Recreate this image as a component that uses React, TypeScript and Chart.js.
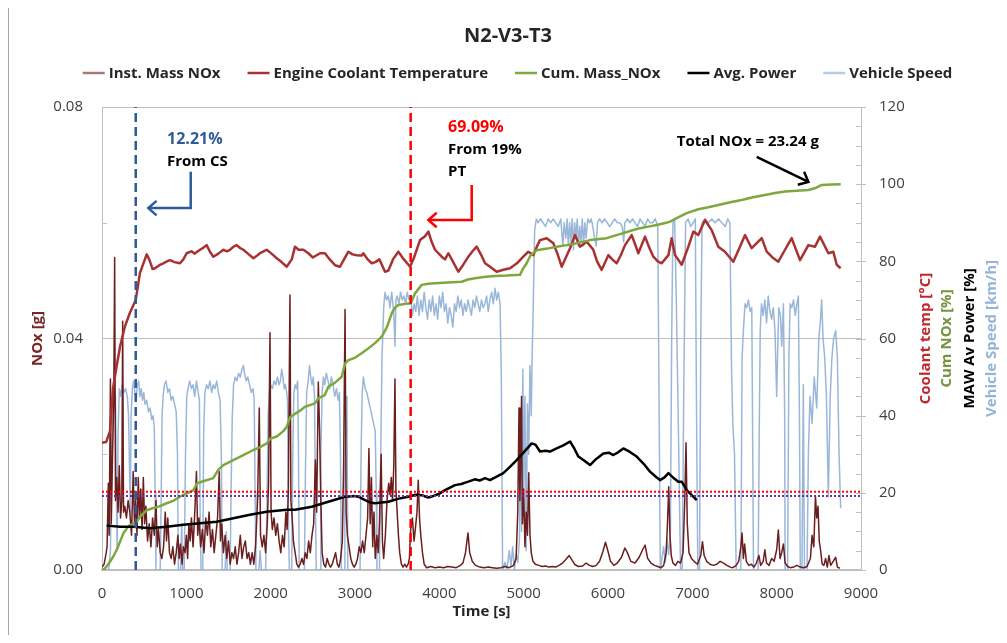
import React, { useEffect, useRef } from "react";
import { Chart, registerables } from "chart.js";

Chart.register(...registerables);

// ---------- DATA ----------
const chartTitle = "N2-V3-T3";
const xTicks = [0, 1000, 2000, 3000, 4000, 5000, 6000, 7000, 8000, 9000];
const leftTicks = [0, 0.04, 0.08];
const rightTicks = [0, 20, 40, 60, 80, 100, 120];

const seriesNames = ["Inst. Mass NOx", "Engine Coolant Temperature", "Cum. Mass_NOx", "Avg. Power", "Vehicle Speed"];

// Inst. Mass NOx [g] vs time [s]
const instNox: [number, number][] = [
  [0,0.0005],[25,0.001],[50,0.003],[60,0.004],[75,0.015],[85,0.006],[100,0.033],[110,0.008],[125,0.02],[140,0.03],
  [150,0.054],[160,0.012],[175,0.016],[190,0.01],[205,0.018],[220,0.009],[235,0.012],[245,0.043],[255,0.01],[270,0.011],
  [290,0.009],[310,0.012],[330,0.01],[350,0.006],[370,0.017],[385,0.008],[400,0.012],[415,0.006],[430,0.016],[445,0.009],
  [460,0.014],[475,0.007],[490,0.016],[505,0.008],[520,0.011],[540,0.005],[560,0.008],[580,0.004],[600,0.009],[620,0.006],
  [640,0.012],[655,0.004],[670,0.007],[690,0.003],[710,0.002],[730,0.004],[750,0.01],[765,0.005],[780,0.009],[800,0.003],
  [820,0.002],[840,0.004],[860,0.001],[880,0.003],[900,0.006],[915,0.002],[930,0.0045],[950,0.001],[965,0.004],[985,0.003],
  [1000,0.006],[1015,0.002],[1030,0.008],[1045,0.005],[1060,0.009],[1080,0.004],[1100,0.01],[1120,0.017],[1135,0.006],[1150,0.009],
  [1170,0.004],[1190,0.007],[1210,0.003],[1230,0.009],[1250,0.006],[1270,0.01],[1290,0.004],[1310,0.007],[1330,0.003],[1350,0.006],
  [1370,0.009],[1390,0.017],[1405,0.005],[1420,0.008],[1440,0.003],[1460,0.006],[1480,0.002],[1500,0.005],[1520,0.001],[1540,0.003],
  [1560,0.002],[1580,0.004],[1600,0.001],[1620,0.003],[1640,0.006],[1660,0.002],[1680,0.004],[1700,0.005],[1720,0.002],[1740,0.003],
  [1760,0.001],[1780,0.003],[1800,0.001],[1820,0.004],[1845,0.012],[1865,0.028],[1880,0.006],[1900,0.004],[1920,0.006],[1940,0.003],
  [1960,0.008],[1975,0.015],[1992,0.041],[2005,0.01],[2020,0.007],[2040,0.009],[2060,0.006],[2080,0.008],[2100,0.005],[2120,0.003],
  [2140,0.006],[2160,0.004],[2180,0.01],[2195,0.007],[2210,0.014],[2229,0.0475],[2240,0.012],[2255,0.009],[2270,0.005],[2290,0.003],
  [2310,0.001],[2330,0.0005],[2350,0.001],[2370,0.002],[2390,0.001],[2410,0.003],[2430,0.002],[2450,0.005],[2470,0.003],[2490,0.006],
  [2510,0.008],[2530,0.019],[2545,0.01],[2565,0.0325],[2580,0.024],[2595,0.012],[2610,0.003],[2630,0.001],[2650,0.0005],[2670,0.002],
  [2690,0.001],[2710,0.0005],[2730,0.001],[2750,0.002],[2770,0.003],[2790,0.001],[2810,0.0005],[2830,0.002],[2850,0.005],[2865,0.018],
  [2882,0.045],[2895,0.01],[2910,0.006],[2930,0.004],[2950,0.002],[2970,0.001],[2990,0.0005],[3010,0.001],[3030,0.002],[3050,0.004],
  [3070,0.003],[3090,0.005],[3110,0.003],[3130,0.006],[3150,0.009],[3165,0.021],[3180,0.008],[3195,0.016],[3210,0.004],[3225,0.01],
  [3240,0.002],[3260,0.006],[3275,0.003],[3290,0.008],[3310,0.02],[3325,0.005],[3340,0.002],[3360,0.006],[3380,0.012],[3400,0.015],
  [3415,0.013],[3430,0.016],[3445,0.012],[3460,0.018],[3474,0.033],[3485,0.014],[3500,0.01],[3515,0.006],[3530,0.003],[3550,0.001],
  [3570,0.0005],[3590,0.001],[3610,0.0005],[3630,0.001],[3645,0.002],[3660,0.007],[3680,0.009],[3700,0.005],[3715,0.007],[3735,0.01],
  [3750,0.0155],[3765,0.009],[3780,0.006],[3800,0.003],[3820,0.001],[3850,0.0004],[3900,0.0006],[3950,0.0004],[4000,0.0005],[4050,0.0004],
  [4100,0.0006],[4150,0.0005],[4200,0.0004],[4250,0.0008],[4280,0.0012],[4310,0.003],[4340,0.0064],[4360,0.003],[4390,0.0015],[4430,0.0008],
  [4480,0.0005],[4530,0.0004],[4580,0.0005],[4630,0.0004],[4680,0.0003],[4730,0.0004],[4780,0.0006],[4830,0.0004],[4880,0.0008],[4910,0.002],
  [4930,0.01],[4945,0.028],[4955,0.012],[4965,0.02],[4975,0.03],[4985,0.008],[5000,0.014],[5015,0.004],[5030,0.01],[5045,0.006],
  [5060,0.0168],[5075,0.006],[5090,0.003],[5110,0.0015],[5140,0.001],[5180,0.0008],[5220,0.0006],[5260,0.0007],[5300,0.0005],[5340,0.0006],
  [5380,0.0005],[5420,0.0008],[5460,0.0012],[5500,0.0018],[5540,0.0025],[5570,0.0018],[5610,0.0009],[5650,0.0006],[5700,0.0007],[5740,0.0012],
  [5780,0.0008],[5820,0.0006],[5860,0.0008],[5900,0.0015],[5940,0.0032],[5970,0.0048],[5995,0.0035],[6030,0.0015],[6070,0.0008],[6110,0.0012],
  [6160,0.0022],[6200,0.0038],[6230,0.003],[6270,0.0015],[6320,0.0012],[6370,0.0022],[6410,0.0035],[6440,0.0043],[6470,0.002],[6510,0.0012],
  [6550,0.0008],[6590,0.0006],[6630,0.0004],[6660,0.0008],[6690,0.003],[6705,0.008],[6720,0.0144],[6735,0.006],[6750,0.0025],[6770,0.0012],
  [6800,0.0008],[6830,0.0015],[6860,0.0012],[6890,0.003],[6910,0.012],[6925,0.022],[6940,0.008],[6960,0.003],[6990,0.002],[7020,0.0015],
  [7060,0.001],[7100,0.0025],[7120,0.0049],[7140,0.0025],[7170,0.0015],[7210,0.001],[7250,0.0008],[7290,0.001],[7330,0.0015],[7370,0.0012],
  [7410,0.0008],[7450,0.0005],[7480,0.0004],[7520,0.0008],[7550,0.0015],[7575,0.004],[7590,0.0064],[7605,0.002],[7620,0.0045],[7640,0.0015],
  [7670,0.0008],[7700,0.001],[7730,0.0005],[7760,0.0012],[7790,0.0025],[7810,0.0008],[7840,0.0015],[7860,0.0035],[7880,0.0012],[7910,0.0008],
  [7940,0.002],[7970,0.0015],[8000,0.0035],[8020,0.0069],[8040,0.002],[8060,0.003],[8080,0.0045],[8100,0.0012],[8130,0.0006],[8160,0.0004],
  [8200,0.0005],[8240,0.0008],[8280,0.0005],[8320,0.0004],[8360,0.0006],[8400,0.002],[8420,0.006],[8440,0.004],[8460,0.0127],[8475,0.009],
  [8490,0.011],[8505,0.005],[8520,0.0035],[8540,0.001],[8560,0.0008],[8580,0.002],[8600,0.0005],[8620,0.0025],[8640,0.0008],[8670,0.0015],
  [8700,0.0022],[8720,0.0005],[8750,0.0003],
];

// Engine coolant temperature [°C]
const coolant: [number, number][] = [
  [0,33],[50,33.2],[95,36],[130,47],[175,53],[215,58],[270,63],[330,66.6],[400,70],[450,77],[500,80],[530,81.8],[560,80.5],[600,78],
  [630,78.2],[680,79],[728,79.5],[770,80],[806,80.3],[860,79.8],[925,79.5],[965,80.5],[1004,82.1],[1060,82.6],[1100,82],[1162,83],
  [1200,83.5],[1241,84.2],[1280,82.5],[1320,81.2],[1380,82],[1439,83],[1480,82.6],[1518,83],[1560,83.8],[1597,84.2],[1640,83.4],
  [1676,83],[1730,82],[1795,80.8],[1840,81.5],[1874,82.1],[1910,82.5],[1953,83],[2010,82],[2072,80.8],[2130,79.8],[2190,78.6],
  [2250,80.5],[2289,83.8],[2330,83],[2388,83],[2447,82.1],[2500,81],[2585,82.1],[2644,82.1],[2700,80.5],[2763,79],[2822,78.6],
  [2870,80.5],[2921,82.5],[2970,81.8],[3020,81.6],[3079,81.5],[3099,82.1],[3150,80.5],[3198,79.5],[3240,79.8],[3290,80.5],[3356,77.3],
  [3396,77.6],[3450,80.5],[3514,82.5],[3580,80.5],[3653,78.6],[3700,81],[3771,85.5],[3830,86.5],[3870,87.7],[3910,85],[3949,83],
  [4028,81.2],[4067,80.5],[4107,82.1],[4160,80],[4225,77.3],[4280,79],[4344,81.2],[4400,82.8],[4443,83.8],[4500,81.5],[4542,79.5],
  [4601,78.6],[4680,77.3],[4760,77.8],[4838,78.2],[4920,79.5],[4996,81.2],[5055,82.5],[5115,81.6],[5160,84],[5194,85.5],[5273,86],
  [5352,84.7],[5400,82],[5451,78.6],[5500,81],[5550,83.4],[5609,86.8],[5668,83.8],[5747,85.1],[5826,83],[5870,80],[5925,77.8],
  [6004,81.6],[6050,80.5],[6103,79.5],[6150,81.5],[6202,84.2],[6281,86.8],[6320,84.5],[6360,82.1],[6439,86.4],[6490,83.5],[6538,81.2],
  [6590,80],[6637,79.5],[6716,81.6],[6755,86],[6795,81.6],[6874,79.1],[6953,83.8],[7012,87.7],[7071,86.8],[7150,90.7],[7229,88.1],
  [7308,83.8],[7387,82.5],[7486,79.9],[7565,83.8],[7625,86.8],[7704,83.4],[7823,86],[7882,82.5],[7950,81],[8020,79.9],[8099,83],
  [8178,86],[8277,80.3],[8376,84.2],[8455,83.8],[8514,86.4],[8613,82.1],[8672,82.5],[8712,79.1],[8759,78.2],
];

// Cumulative mass NOx [%]
const cumNox: [number, number][] = [
  [0,0],[40,0.5],[90,2],[134,3.5],[180,5.5],[253,9.5],[320,11.5],[400,12.2],[460,14],[530,15.5],[600,16],[680,16.5],[767,17.3],
  [850,18],[925,19],[1000,19.8],[1083,20.7],[1130,22.5],[1200,23],[1320,23.8],[1380,26],[1439,27.2],[1557,28.5],[1676,29.8],
  [1795,31.1],[1870,31.8],[1953,32.8],[1992,34],[2072,34.6],[2150,36],[2190,37.1],[2229,39.5],[2269,40.2],[2348,41.3],[2407,42.3],
  [2526,43.2],[2565,44.5],[2640,45.3],[2684,47.5],[2760,48.5],[2842,50.1],[2882,53.5],[2921,54.4],[3000,55],[3079,56.2],[3160,57.5],
  [3237,58.8],[3317,60.5],[3380,63],[3435,66.5],[3474,68],[3514,68.7],[3633,69.1],[3660,69.1],[3712,71.7],[3791,73.9],[3870,74.2],
  [3949,74.3],[4100,74.5],[4265,74.7],[4340,75.3],[4423,75.6],[4550,76],[4660,76.2],[4800,76.3],[4957,76.5],[4990,78],[5036,79.5],
  [5080,81.5],[5154,82.9],[5280,83.3],[5391,83.8],[5510,84.2],[5629,84.7],[5787,85.5],[5985,86],[6100,86.8],[6182,87.3],[6280,88],
  [6380,88.6],[6480,89],[6578,89.4],[6690,90],[6736,90.3],[6815,91.2],[6933,92.5],[7071,93.5],[7190,94],[7308,94.6],[7450,95.3],
  [7585,95.9],[7720,96.6],[7862,97.2],[7980,97.7],[8099,98.1],[8240,98.3],[8376,98.5],[8460,99],[8534,99.8],[8650,99.9],[8759,100],
];

// Avg. power (MAW) [%]
const avgPower: [number, number][] = [
  [55,11.5],[213,11.2],[372,11.2],[570,10.8],[767,11.2],[965,11.7],[1162,12.1],[1360,12.5],[1557,13.4],[1755,14.3],[1953,15.1],
  [2190,15.6],[2289,15.6],[2487,16.4],[2684,17.7],[2881,19],[3000,19.2],[3040,19],[3119,18.1],[3180,17.5],[3237,17.3],[3396,17.7],
  [3520,18.5],[3633,19],[3720,19.5],[3791,19.4],[3860,18.8],[3910,19],[4000,19.8],[4067,20.7],[4186,22],[4260,22.3],[4344,22.9],
  [4420,23.5],[4480,23.2],[4542,23.8],[4601,23.3],[4680,24.2],[4759,25.1],[4840,26.8],[4917,28.5],[5000,30.5],[5095,32.8],[5140,32.5],
  [5194,30.7],[5260,30.9],[5312,30.7],[5391,31.5],[5470,32.3],[5550,33.3],[5600,31.5],[5649,29.4],[5720,28.3],[5787,27.2],[5860,28.8],
  [5945,30.2],[6010,30.4],[6063,29.8],[6120,30.5],[6182,31.5],[6260,30.6],[6340,29.4],[6420,27.6],[6498,25.5],[6560,24.3],[6617,23.3],
  [6670,24],[6716,25.1],[6770,24],[6834,22.9],[6874,22.9],[6910,21.6],[6933,20.7],[6993,19.4],[7052,18.1],
];

// Vehicle speed [km/h]
const speed: [number, number][] = [
  [0,0],[80,0],[100,5],[115,30],[130,44],[145,47],[160,45],[170,20],[180,5],[190,35],[205,47],[220,45],[240,48],[260,46],[280,47],
  [300,45],[315,40],[325,28],[335,15],[345,40],[360,47],[375,49],[390,46],[405,44],[420,48],[435,49],[450,45],[465,47],[480,44],
  [495,46],[510,43],[530,44],[550,41],[570,42],[590,39],[605,40],[620,37],[630,20],[640,0],[690,0],[700,15],[712,40],[725,45],
  [740,48],[760,49],[780,46],[800,47],[820,44],[840,45],[860,43],[880,41],[895,30],[905,0],[930,0],[945,12],[955,0],[975,0],
  [990,30],[1005,45],[1020,47],[1040,49],[1060,47],[1080,48],[1100,45],[1120,49],[1140,46],[1155,44],[1165,10],[1175,0],[1195,0],
  [1205,35],[1220,46],[1240,48],[1260,47],[1280,49],[1300,46],[1320,48],[1340,47],[1360,49],[1380,46],[1400,44],[1415,30],[1425,0],
  [1460,0],[1475,10],[1485,0],[1520,0],[1530,20],[1545,40],[1560,48],[1580,50],[1600,49],[1620,51],[1640,50],[1660,52],[1676,53],
  [1690,51],[1710,49],[1730,50],[1750,48],[1770,46],[1790,47],[1805,44],[1815,20],[1825,0],[1860,0],[1875,5],[1890,0],[1940,0],
  [1955,15],[1970,40],[1985,46],[2000,48],[2020,47],[2040,49],[2060,48],[2080,50],[2100,48],[2115,49],[2131,52],[2145,50],[2160,47],
  [2175,48],[2190,46],[2200,44],[2212,10],[2222,0],[2250,0],[2262,30],[2275,46],[2290,48],[2305,47],[2320,49],[2330,30],[2338,0],
  [2400,0],[2412,25],[2427,46],[2445,49],[2460,53],[2475,50],[2490,48],[2505,50],[2520,45],[2530,20],[2540,0],[2585,0],[2595,30],
  [2610,46],[2625,50],[2640,48],[2660,51],[2680,49],[2700,47],[2720,50],[2740,48],[2760,45],[2780,47],[2800,44],[2815,46],[2828,30],
  [2838,0],[2870,0],[2880,25],[2895,45],[2905,42],[2915,0],[3060,0],[3072,30],[3085,46],[3100,50],[3120,47],[3140,46],[3160,44],
  [3180,42],[3200,40],[3220,38],[3240,36],[3252,20],[3260,0],[3290,0],[3305,30],[3320,55],[3340,68],[3356,72],[3375,70],[3395,71],
  [3415,68],[3435,72],[3450,69],[3465,64],[3474,58],[3485,70],[3500,71],[3520,69],[3540,72],[3560,70],[3580,71],[3600,69],[3620,72],
  [3640,70],[3660,71],[3680,66],[3700,69],[3720,67],[3740,71],[3760,66],[3780,70],[3800,67],[3820,72],[3840,68],[3860,65],[3880,70],
  [3900,67],[3920,71],[3940,66],[3960,69],[3980,65],[4000,71],[4020,68],[4040,72],[4060,67],[4080,69],[4100,64],[4120,68],[4140,66],
  [4160,63],[4180,69],[4200,67],[4220,71],[4240,68],[4260,70],[4280,66],[4300,69],[4320,67],[4340,70],[4360,68],[4380,66],[4400,70],
  [4420,68],[4440,71],[4460,69],[4480,67],[4500,70],[4520,68],[4540,69],[4560,71],[4580,67],[4600,70],[4620,72],[4640,69],[4660,73],
  [4680,70],[4700,72],[4720,69],[4735,50],[4750,0],[4780,2],[4800,0],[4830,5],[4850,1],[4870,6],[4890,0],[4910,4],[4930,2],[4950,8],
  [4965,40],[4975,10],[4990,52],[5000,20],[5015,45],[5030,5],[5045,43],[5060,30],[5075,53],[5090,40],[5100,55],[5115,70],[5130,88],
  [5150,91],[5170,90],[5200,91],[5230,90],[5260,89],[5290,91],[5320,90],[5350,91],[5380,90],[5410,89],[5440,91],[5465,84],[5480,90],
  [5500,86],[5515,91],[5530,84],[5545,90],[5560,85],[5575,91],[5590,83],[5605,90],[5620,86],[5635,91],[5650,84],[5665,89],[5680,85],
  [5695,91],[5710,84],[5725,90],[5740,86],[5760,91],[5780,90],[5800,91],[5820,89],[5840,86],[5860,84],[5875,90],[5900,91],[5930,90],
  [5960,91],[5990,90],[6020,89],[6050,90],[6080,91],[6110,90],[6140,90],[6170,89],[6185,85],[6200,90],[6230,91],[6260,90],[6290,91],
  [6320,90],[6350,89],[6380,91],[6410,90],[6440,89],[6470,91],[6500,90],[6530,90],[6560,91],[6590,89],[6605,45],[6620,0],[6640,3],
  [6660,6],[6680,2],[6700,8],[6720,4],[6740,10],[6755,60],[6770,90],[6790,91],[6810,70],[6840,29],[6860,0],[6880,0],[6900,50],
  [6920,90],[6950,91],[6980,89],[7010,90],[7035,91],[7050,40],[7065,0],[7085,0],[7100,60],[7115,90],[7150,91],[7190,90],[7230,91],
  [7270,90],[7310,91],[7350,90],[7390,89],[7420,91],[7445,90],[7465,52],[7480,38],[7500,30],[7520,0],[7575,0],[7590,55],[7605,62],
  [7625,69],[7645,68],[7665,70],[7685,67],[7705,68],[7715,35],[7725,0],[7780,0],[7795,40],[7805,62],[7820,69],[7840,66],[7860,70],
  [7880,64],[7900,71],[7920,67],[7940,65],[7960,68],[7980,62],[8000,45],[8010,55],[8025,68],[8045,66],[8060,58],[8080,69],[8095,40],
  [8100,0],[8130,0],[8145,55],[8160,69],[8180,68],[8200,70],[8220,66],[8240,69],[8257,71],[8270,40],[8280,0],[8300,0],[8316,48],
  [8330,0],[8360,0],[8376,30],[8395,45],[8420,38],[8445,50],[8475,42],[8500,60],[8520,65],[8534,70],[8550,60],[8570,55],[8590,45],
  [8613,19],[8635,45],[8655,55],[8675,60],[8700,62],[8720,55],[8740,30],[8759,16],
];

// Reference lines
const csTime = 400;      // blue dashed: cold start end
const ptTime = 3660;     // red dashed: 19% PT
const thresholdRed = 20.3;
const thresholdPurple = 19.2;

// ---------- STYLE ----------
const FF = "'Open Sans', 'DejaVu Sans', sans-serif";
const C = {
  inst: "#6B1E1E",
  coolant: "#A83232",
  cum: "#7DA83F",
  power: "#000000",
  speed: "rgba(149,179,215,0.95)",
  csLine: "#2E5A94",
  ptLine: "#FF0000",
  thRed: "#FF0000",
  thPurple: "#7030A0",
  grid: "#BFBFBF",
  tick: "#404040",
};

const pts = (arr: [number, number][]) => arr.map(([x, y]) => ({ x, y }));

function drawArrow(ctx: CanvasRenderingContext2D, p: number[][], color: string) {
  ctx.save();
  ctx.strokeStyle = color;
  ctx.lineWidth = 2.5;
  ctx.lineJoin = "miter";
  ctx.beginPath();
  p.forEach(([x, y], i) => (i ? ctx.lineTo(x, y) : ctx.moveTo(x, y)));
  ctx.stroke();
  const [x1, y1] = p[p.length - 2];
  const [x2, y2] = p[p.length - 1];
  const ang = Math.atan2(y2 - y1, x2 - x1);
  const L = 11;
  ctx.beginPath();
  ctx.moveTo(x2 - L * Math.cos(ang - 0.72), y2 - L * Math.sin(ang - 0.72));
  ctx.lineTo(x2, y2);
  ctx.lineTo(x2 - L * Math.cos(ang + 0.72), y2 - L * Math.sin(ang + 0.72));
  ctx.stroke();
  ctx.restore();
}

const overlay = {
  id: "overlay",
  afterDraw(chart: any) {
    const { ctx, chartArea: a, scales } = chart;
    const xs = scales.x, yl = scales.y, yr = scales.y2;
    const X = (v: number) => xs.getPixelForValue(v);
    const Y = (v: number) => yr.getPixelForValue(v);
    ctx.save();

    // title
    ctx.fillStyle = "#262626";
    ctx.font = `bold 20px ${FF}`;
    ctx.textAlign = "center";
    ctx.textBaseline = "middle";
    ctx.fillText(chartTitle, chart.width / 2, 28);

    // legend (series order)
    const items = chart.data.datasets
      .filter((d: any) => d.inLegend)
      .sort((p: any, q: any) => p.inLegend - q.inLegend);
    ctx.font = `bold 15px ${FF}`;
    const lineLen = 22, gapLT = 4, gap = 27;
    const widths = items.map((d: any) => ctx.measureText(d.label).width);
    const total = widths.reduce((s: number, w: number) => s + lineLen + gapLT + w, 0) + gap * (items.length - 1);
    let lx = 508.5 - total / 2;
    const ly = 65;
    items.forEach((d: any, i: number) => {
      ctx.strokeStyle = d.legendColor || d.borderColor;
      ctx.lineWidth = 2.5;
      ctx.beginPath();
      ctx.moveTo(lx, ly);
      ctx.lineTo(lx + lineLen, ly);
      ctx.stroke();
      ctx.fillStyle = "#262626";
      ctx.textAlign = "left";
      ctx.fillText(d.label, lx + lineLen + gapLT, ly + 1);
      lx += lineLen + gapLT + widths[i] + gap;
    });

    // axis titles
    const cy = (a.top + a.bottom) / 2;
    ctx.textAlign = "center";
    ctx.fillStyle = "#262626";
    ctx.fillText("Time [s]", (a.left + a.right) / 2, a.bottom + 42);
    const vtitle = (txt: string, x: number, color: string) => {
      ctx.save();
      ctx.translate(x, cy);
      ctx.rotate(-Math.PI / 2);
      ctx.fillStyle = color;
      ctx.fillText(txt, 0, 0);
      ctx.restore();
    };
    vtitle("NOx [g]", a.left - 64.5, "#7B2626");
    vtitle("Coolant temp [°C]", a.right + 64.5, "#C0282D");
    vtitle("Cum NOx [%]", a.right + 85.5, "#77933C");
    vtitle("MAW Av Power [%]", a.right + 109, "#000000");
    vtitle("Vehicle Speed [km/h]", a.right + 131, "#95B3D7");

    // tick marks
    ctx.strokeStyle = C.grid;
    ctx.lineWidth = 1;
    ctx.beginPath();
    [0.02, 0.06].forEach((v) => {
      const y = Math.round(yl.getPixelForValue(v)) + 0.5;
      ctx.moveTo(a.left, y);
      ctx.lineTo(a.left + 5, y);
    });
    for (let v = 0; v <= 120; v += 5) {
      const y = Math.round(Y(v)) + 0.5;
      ctx.moveTo(a.right - 5, y);
      ctx.lineTo(a.right + (v % 20 === 0 ? 5 : 0), y);
    }
    ctx.stroke();

    // annotations
    ctx.textAlign = "left";
    ctx.font = `bold 16px ${FF}`;
    ctx.fillStyle = "#2E5C9A";
    ctx.fillText("12.21%", X(771), Y(111.5));
    ctx.fillStyle = "#FF0000";
    ctx.fillText("69.09%", X(4103), Y(114.6));
    ctx.font = `bold 15px ${FF}`;
    ctx.fillStyle = "#000000";
    ctx.fillText("From CS", X(771), Y(105.9));
    ctx.fillText("From 19%", X(4103), Y(108.9));
    ctx.fillText("PT", X(4103), Y(103.2));
    ctx.fillText("Total NOx = 23.24 g", X(6815), Y(110.9));

    drawArrow(ctx, [[X(1052), Y(103.2)], [X(1052), Y(93.8)], [X(549), Y(93.8)]], "#2E5C9A");
    drawArrow(ctx, [[X(4384), Y(99.8)], [X(4384), Y(90.7)], [X(3870), Y(90.7)]], "#FF0000");
    drawArrow(ctx, [[X(7763), Y(107.1)], [X(8376), Y(100.6)]], "#000000");

    ctx.restore();
  },
};

export default function App() {
  const ref = useRef<HTMLCanvasElement>(null);

  useEffect(() => {
    const canvas = ref.current;
    if (!canvas) return;
    const line = (extra: any) => ({
      pointRadius: 0,
      pointHoverRadius: 0,
      tension: 0,
      fill: false,
      borderJoinStyle: "round",
      ...extra,
    });
    const chart = new Chart(canvas, {
      type: "line",
      data: {
        datasets: [
          line({ label: "cs", data: pts([[csTime, 0], [csTime, 120]]), yAxisID: "y2", borderColor: C.csLine, borderWidth: 2.5, borderDash: [9, 5] }),
          line({ label: "pt", data: pts([[ptTime, 0], [ptTime, 120]]), yAxisID: "y2", borderColor: C.ptLine, borderWidth: 2.5, borderDash: [9, 5] }),
          line({ label: "thr", data: pts([[0, thresholdRed], [9000, thresholdRed]]), yAxisID: "y2", borderColor: C.thRed, borderWidth: 2, borderDash: [2, 2] }),
          line({ label: "thp", data: pts([[0, thresholdPurple], [9000, thresholdPurple]]), yAxisID: "y2", borderColor: C.thPurple, borderWidth: 2, borderDash: [2, 2] }),
          line({ label: seriesNames[3], inLegend: 4, data: pts(avgPower), yAxisID: "y2", borderColor: C.power, borderWidth: 2.5 }),
          line({ label: seriesNames[2], inLegend: 3, data: pts(cumNox), yAxisID: "y2", borderColor: C.cum, borderWidth: 2.5 }),
          line({ label: seriesNames[1], inLegend: 2, data: pts(coolant), yAxisID: "y2", borderColor: C.coolant, borderWidth: 2.5 }),
          line({ label: seriesNames[0], inLegend: 1, legendColor: "#A87878", data: pts(instNox), yAxisID: "y", borderColor: C.inst, borderWidth: 1.5 }),
          line({ label: seriesNames[4], inLegend: 5, legendColor: "#B8CCE4", data: pts(speed), yAxisID: "y2", borderColor: C.speed, borderWidth: 1.5 }),
        ],
      },
      options: {
        animation: false,
        responsive: false,
        events: [],
        layout: { padding: { top: 99, left: 0, right: 0, bottom: 0 } },
        plugins: { legend: { display: false }, title: { display: false }, tooltip: { enabled: false } },
        scales: {
          x: {
            type: "linear",
            min: 0,
            max: 9000,
            afterBuildTicks: (s: any) => { s.ticks = xTicks.map((v) => ({ value: v })); },
            afterFit: (s: any) => { s.height = 65; },
            grid: { display: false, drawTicks: false },
            border: { display: true, color: C.grid, width: 1.5 },
            ticks: { padding: 15, color: C.tick, font: { family: FF, size: 15 }, maxRotation: 0, autoSkip: false, callback: (v: any) => String(v) },
          },
          y: {
            position: "left",
            min: 0,
            max: 0.08,
            afterBuildTicks: (s: any) => { s.ticks = leftTicks.map((v) => ({ value: v })); },
            afterFit: (s: any) => { s.width = 93; },
            grid: { color: C.grid, drawTicks: false, lineWidth: 1 },
            border: { display: true, color: C.grid },
            ticks: { padding: 19, color: C.tick, font: { family: FF, size: 15 }, callback: (v: any) => Number(v).toFixed(2) },
          },
          y2: {
            position: "right",
            min: 0,
            max: 120,
            afterBuildTicks: (s: any) => { s.ticks = rightTicks.map((v) => ({ value: v })); },
            afterFit: (s: any) => { s.width = 146; },
            grid: { display: false, drawTicks: false },
            border: { display: true, color: C.grid },
            ticks: { padding: 18, color: C.tick, font: { family: FF, size: 15 } },
          },
        },
      },
      plugins: [overlay],
    } as any);
    return () => chart.destroy();
  }, []);

  return (
    <div style={{ width: 998, height: 627, borderLeft: "1px solid #A6A6A6", overflow: "hidden" }}>
      <canvas ref={ref} width={998} height={627} style={{ display: "block" }} />
    </div>
  );
}
